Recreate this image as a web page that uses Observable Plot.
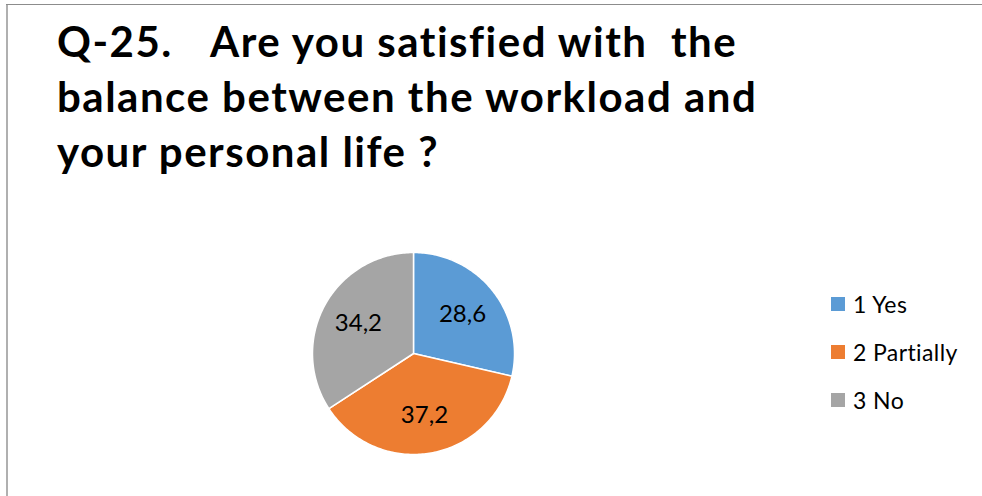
<!DOCTYPE html>
<html>
<head>
<meta charset="utf-8">
<script src="https://cdn.jsdelivr.net/npm/d3@7"></script>
<script src="https://cdn.jsdelivr.net/npm/@observablehq/plot@0.6"></script>
<style>
  html, body { margin: 0; padding: 0; background: #fff; }
  #wrap { position: relative; width: 982px; height: 496px; overflow: hidden; background: #fff; font-family: Lato, "Open Sans", sans-serif; }
  #frameLeft { position: absolute; left: 6px; top: 4px; width: 2px; height: 492px; background: #b0b0b0; }
  #frameTop { position: absolute; left: 6px; top: 4px; width: 976px; height: 1px; background: #8c8c8c; }
  .tline { position: absolute; font-weight: 700; font-size: 42px; line-height: 50px; letter-spacing: 1.5px; color: #000; white-space: pre; }
  #chart { position: absolute; left: 0; top: 0; }
  #legend { position: absolute; left: 831px; top: 289px; }
  .lrow { position: absolute; left: 0; height: 30px; display: flex; align-items: center; white-space: nowrap; font-size: 23px; letter-spacing: 0.4px; color: #000; }
  .lsw { width: 14px; height: 14px; margin-right: 8px; }
</style>
</head>
<body>
<div id="wrap">
  <div id="frameLeft"></div>
  <div id="frameTop"></div>
  <div id="chart"></div>
  <div id="title"></div>
  <div id="legend"></div>
</div>
<script>
// title: each line is a list of [text, left] runs (the first line has a tab gap)
const titleLines = [
  [["Q-25.", 57], ["Are you satisfied with  the", 210]],
  [["balance between the workload and", 57]],
  [["your personal life ?", 57]]
];
const categories = ["1 Yes", "2 Partially", "3 No"];
const values = [28.6, 37.2, 34.2];
const valueLabels = ["28,6", "37,2", "34,2"];
const colors = ["#5B9BD5", "#ED7D31", "#A5A5A5"];

// title
const titleEl = document.getElementById("title");
const baselines = [57, 112, 167];
titleLines.forEach((runs, i) => {
  runs.forEach(([t, left]) => {
    const d = document.createElement("div");
    d.className = "tline";
    d.textContent = t;
    d.style.left = left + "px";
    d.style.top = (baselines[i] - 41) + "px";
    titleEl.appendChild(d);
  });
});

// pie geometry from the data
const rows = categories.map((c, i) => ({category: c, value: values[i], label: valueLabels[i]}));
const arcs = d3.pie().sort(null).value(d => d.value)(rows);
const pts = [];
for (const a of arcs) {
  const c = a.data.category;
  pts.push({category: c, x: 0, y: 0});
  const n = Math.max(2, Math.ceil((a.endAngle - a.startAngle) / (Math.PI / 180)));
  for (let k = 0; k <= n; k++) {
    const t = a.startAngle + (a.endAngle - a.startAngle) * k / n;
    pts.push({category: c, x: Math.sin(t), y: Math.cos(t)});
  }
  pts.push({category: c, x: 0, y: 0});
}
const lab = arcs.map(a => {
  const m = (a.startAngle + a.endAngle) / 2;
  return {label: a.data.label, x: 0.62 * Math.sin(m), y: 0.62 * Math.cos(m)};
});

const chart = Plot.plot({
  width: 982,
  height: 496,
  margin: 0,
  style: {background: "transparent", overflow: "visible"},
  x: {domain: [-1, 1], range: [312, 514], axis: null},
  y: {domain: [-1, 1], range: [454, 252], axis: null},
  color: {domain: categories, range: colors},
  marks: [
    Plot.line(pts, {x: "x", y: "y", z: "category", fill: "category", stroke: "white", strokeWidth: 1.5, strokeLinejoin: "round"}),
    Plot.text(lab, {x: "x", y: "y", text: "label", fontSize: 24, fill: "black", fontFamily: "Lato, 'Open Sans', sans-serif"})
  ]
});
document.getElementById("chart").appendChild(chart);

// legend
const legend = document.getElementById("legend");
categories.forEach((c, i) => {
  const r = document.createElement("div");
  r.className = "lrow";
  r.style.top = (i * 48) + "px";
  const sw = document.createElement("div");
  sw.className = "lsw";
  sw.style.background = colors[i];
  const tx = document.createElement("span");
  tx.textContent = c;
  r.appendChild(sw);
  r.appendChild(tx);
  legend.appendChild(r);
});
</script>
</body>
</html>
